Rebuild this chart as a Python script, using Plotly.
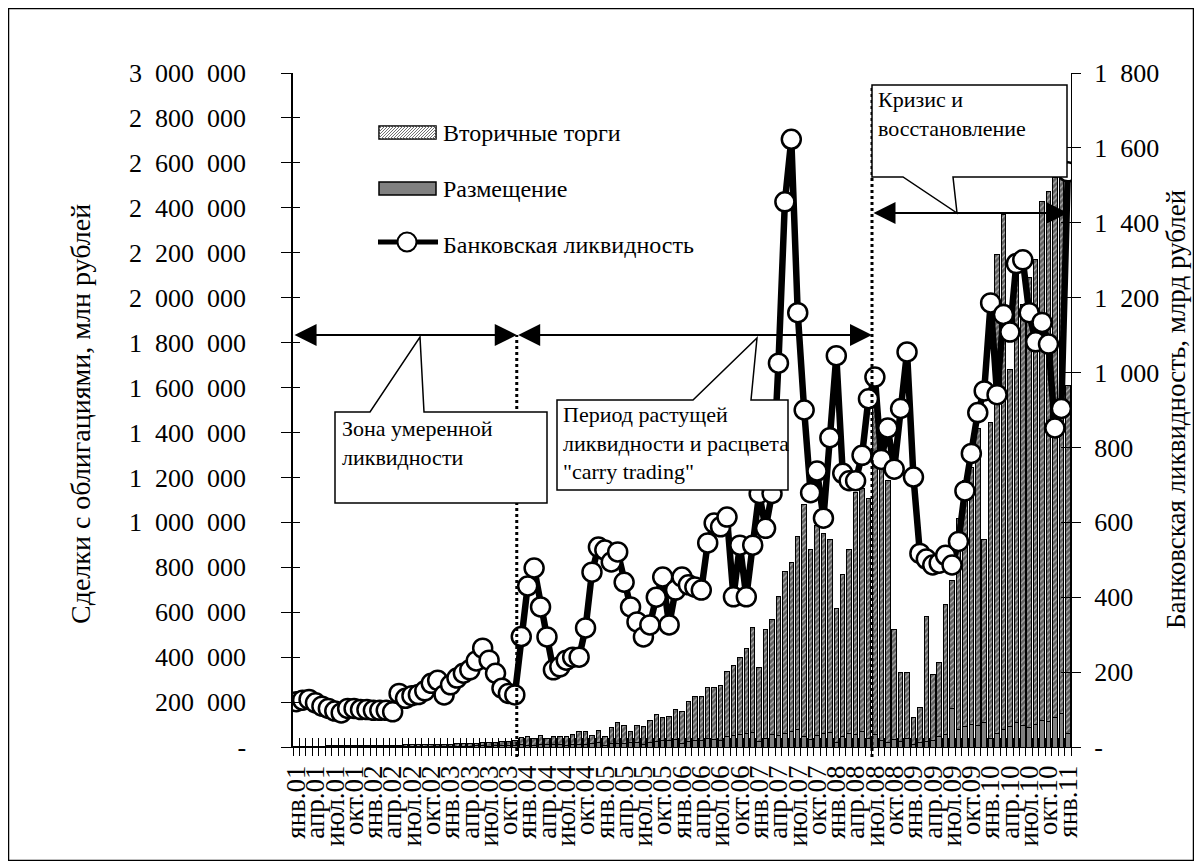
import plotly.graph_objects as go

# ---- data (monthly, янв.2001 - янв.2011) ----
month_abbr = ["янв", "фев", "мар", "апр", "май", "июн", "июл", "авг", "сен", "окт", "ноя", "дек"]
periods = [f"{m}.{y:02d}" for y in range(1, 11) for m in month_abbr] + ["янв.11"]
x = list(range(len(periods)))

# Размещение, млн рублей
placement = [1000, 1000, 1000, 1000, 1000, 2000, 1000, 2000, 1000, 2000, 2000, 3000,
             1000, 2000, 2000, 2000, 2000, 3000, 2000, 3000, 2000, 3000, 3000, 4000,
             2000, 3000, 4000, 4000, 5000, 5000, 4000, 6000, 5000, 6000, 8000, 10000,
             5000, 8000, 10000, 9000, 12000, 10000, 8000, 12000, 10000, 13000, 15000, 18000,
             8000, 14000, 16000, 15000, 20000, 18000, 12000, 22000, 25000, 28000, 30000, 35000,
             15000, 25000, 30000, 28000, 40000, 35000, 30000, 45000, 50000, 55000, 60000, 65000,
             25000, 40000, 55000, 50000, 60000, 70000, 80000, 45000, 35000, 50000, 60000, 65000,
             20000, 45000, 60000, 55000, 70000, 40000, 55000, 30000, 20000, 35000, 25000, 40000,
             10000, 20000, 25000, 30000, 45000, 55000, 170000, 80000, 90000, 100000, 95000, 110000,
             40000, 60000, 80000, 90000, 110000, 95000, 85000, 100000, 120000, 115000, 130000, 150000,
             60000]

# Вторичные торги, млн рублей
secondary = [2000, 2000, 3000, 3000, 3000, 3000, 4000, 3000, 5000, 4000, 5000, 4000,
             5000, 5000, 5000, 6000, 6000, 6000, 7000, 7000, 8000, 8000, 9000, 8000,
             11000, 11000, 11000, 12000, 12000, 13000, 16000, 16000, 19000, 20000, 22000, 32000,
             43000, 32000, 43000, 30000, 33000, 38000, 40000, 45000, 57000, 54000, 38000, 56000,
             40000, 71000, 91000, 81000, 47000, 78000, 80000, 94000, 120000, 103000, 104000, 131000,
             141000, 178000, 195000, 197000, 227000, 229000, 244000, 293000, 312000, 345000, 377000, 469000,
             328000, 482000, 512000, 620000, 723000, 753000, 858000, 1035000, 845000, 934000, 889000, 858000,
             598000, 721000, 820000, 1077000, 1080000, 1066000, 1495000, 1416000, 1164000, 487000, 306000, 291000,
             121000, 154000, 558000, 292000, 329000, 581000, 570000, 939000, 1094000, 1145000, 1324000, 813000,
             1406000, 2134000, 2289000, 1591000, 2032000, 1873000, 2005000, 2068000, 2310000, 2358000, 2404000, 2428000,
             1551000]

# Банковская ликвидность, млрд рублей
liquidity = [121, 125, 127, 118, 109, 103, 96, 91, 103, 103, 100, 100,
             98, 98, 98, 94, 143, 130, 137, 140, 150, 170, 178, 139,
             166, 184, 197, 206, 230, 264, 232, 197, 157, 143, 139, 295,
             430, 478, 374, 294, 206, 214, 232, 240, 240, 318, 467, 534,
             526, 494, 521, 440, 374, 334, 294, 326, 400, 454, 326, 419,
             454, 433, 427, 419, 545, 598, 588, 614, 401, 539, 401, 539,
             677, 584, 677, 1025, 1456, 1623, 1160, 900, 679, 737, 611, 826,
             1045, 731, 711, 711, 779, 930, 988, 768, 852, 742, 904, 1055,
             721, 517, 502, 486, 491, 512, 486, 549, 684, 784, 893, 951,
             1186, 941, 1155, 1108, 1291, 1301, 1160, 1082, 1134, 1076, 852, 904,
             1536]

label_idx = list(range(0, len(periods), 3))
label_text = [periods[i] for i in label_idx]
bounds = [i - 0.5 for i in range(len(periods) + 1)]

SEP = "\u2002"  # wide thousands separator, as in the original number format
left_vals = list(range(0, 3000001, 200000))
left_text = ["-"] + [f"{v:,}".replace(",", SEP) for v in left_vals[1:]]
right_vals = list(range(0, 1801, 200))
right_text = ["-"] + [f"{v:,}".replace(",", SEP) for v in right_vals[1:]]

# period boundaries for the annotations (in category units)
split_1 = 34.3
split_2 = 89.55

# ---- geometry, in screenshot pixels (page has an 8px body margin) ----
OFF = 8
L, R, T, B = 293, 1071, 73, 747
W, H = 1186, 853
FONT = "Liberation Serif"


def px(xp):
    return (xp - L) / (R - L)


def py(yp):
    return (B - yp) / (B - T)


def path(points):
    return "M " + " L ".join(f"{px(a):.5f},{py(b):.5f}" for a, b in points) + " Z"


fig = go.Figure()

fig.add_trace(go.Bar(
    x=x, y=placement, name="Размещение",
    marker=dict(color="#808080", line=dict(color="black", width=1)),
))
fig.add_trace(go.Bar(
    x=x, y=secondary, name="Вторичные торги",
    marker=dict(color="#606060",
                pattern=dict(shape="/", fgcolor="white", bgcolor="#606060", size=4, solidity=0.3),
                line=dict(color="black", width=1)),
))
fig.add_trace(go.Scatter(
    x=x, y=liquidity, name="Банковская ликвидность", yaxis="y2",
    mode="lines+markers",
    line=dict(color="black", width=6.5),
    marker=dict(size=19, color="white", line=dict(color="black", width=2.5)),
))

# empty helper traces so the extra tick axes get drawn
for xa, ya in [("x2", "y"), ("x3", "y"), ("x", "y3"), ("x", "y4")]:
    fig.add_trace(go.Scatter(x=[None], y=[None], xaxis=xa, yaxis=ya, mode="markers",
                             showlegend=False, hoverinfo="skip"))

shapes = []
annotations = []

# outer frame
shapes.append(dict(type="rect", xref="paper", yref="paper",
                   x0=px(OFF), x1=px(OFF + W), y0=py(OFF + H), y1=py(OFF),
                   line=dict(color="black", width=2.5)))

# vertical dotted separators
for xs, ytop in [(split_1, 335), (split_2, 85)]:
    shapes.append(dict(type="line", xref="x", yref="paper", x0=xs, x1=xs,
                       y0=py(757), y1=py(ytop),
                       line=dict(color="black", width=3, dash="dot")))

# callout boxes
box_style = dict(type="path", xref="paper", yref="paper", fillcolor="white",
                 line=dict(color="black", width=1.5))
shapes.append(dict(box_style, path=path([(335, 412), (370, 412), (420, 337), (424, 412),
                                         (547, 412), (547, 503), (335, 503)])))
shapes.append(dict(box_style, path=path([(557, 400), (693, 400), (757, 338), (751, 400),
                                         (788, 400), (788, 490), (557, 490)])))
shapes.append(dict(box_style, path=path([(872, 85), (1067, 85), (1067, 177), (953, 177),
                                         (957, 213), (903, 177), (872, 177)])))

box_texts = [
    (340, 443, "Зона умеренной<br>ликвидности"),
    (561, 443, "Период растущей<br>ликвидности и расцвета<br>\"carry trading\""),
    (876, 114, "Кризис и<br>восстановление"),
]
for bx, by, txt in box_texts:
    annotations.append(dict(xref="paper", yref="paper", x=px(bx), y=py(by), text=txt,
                            showarrow=False, xanchor="left", yanchor="middle", align="left",
                            font=dict(family=FONT, size=22, color="black")))

# period arrows (double headed)
arrow_style = dict(text="", showarrow=True, arrowhead=2, startarrowhead=2,
                   arrowside="end+start", arrowsize=2.2, startarrowsize=2.2,
                   arrowwidth=2, arrowcolor="black", axref="pixel", ayref="pixel",
                   standoff=0, startstandoff=0)
annotations.append(dict(arrow_style, xref="x", yref="paper", x=split_1, y=py(335),
                        ax=-(516.7 - L), ay=0))
annotations.append(dict(arrow_style, xref="x", yref="paper", x=split_2, y=py(335),
                        ax=-(872 - 516.7), ay=0))
annotations.append(dict(arrow_style, xref="paper", yref="paper", x=px(1068), y=py(213),
                        ax=-(1068 - 872), ay=0))

# legend drawn by hand
sw_x0, sw_x1 = 379, 436
h0, h1 = 126, 139
shapes.append(dict(type="rect", xref="paper", yref="paper", x0=px(sw_x0), x1=px(sw_x1),
                   y0=py(h1), y1=py(h0), fillcolor="white", line=dict(color="black", width=1.5)))
hatch = []
hh = h1 - h0
c = sw_x0 - hh
while c < sw_x1:
    xa, ya = c, h1
    xb, yb = c + hh, h0
    if xa < sw_x0:
        ya = h1 - (sw_x0 - xa)
        xa = sw_x0
    if xb > sw_x1:
        yb = h1 - (sw_x1 - c)
        xb = sw_x1
    hatch.append(f"M {px(xa):.5f},{py(ya):.5f} L {px(xb):.5f},{py(yb):.5f}")
    c += 3
shapes.append(dict(type="path", xref="paper", yref="paper", path=" ".join(hatch),
                   line=dict(color="#707070", width=1)))
shapes.append(dict(type="rect", xref="paper", yref="paper", x0=px(sw_x0), x1=px(sw_x1),
                   y0=py(195), y1=py(182), fillcolor="#808080", line=dict(color="black", width=1.5)))
shapes.append(dict(type="line", xref="paper", yref="paper", x0=px(378), x1=px(438),
                   y0=py(242), y1=py(242), line=dict(color="black", width=5)))
shapes.append(dict(type="circle", xref="paper", yref="paper", x0=px(397.5), x1=px(416.5),
                   y0=py(251.5), y1=py(232.5), fillcolor="white", line=dict(color="black", width=2)))

for ly, txt in [(133, "Вторичные торги"), (189, "Размещение"), (245, "Банковская ликвидность")]:
    annotations.append(dict(xref="paper", yref="paper", x=px(441), y=py(ly), text=txt,
                            showarrow=False, xanchor="left", yanchor="middle",
                            font=dict(family=FONT, size=24, color="black")))

# axis titles
annotations.append(dict(xref="paper", yref="paper", x=px(80), y=py(414), textangle=-90,
                        xanchor="center", yanchor="middle",
                        text="Сделки с облигациями, млн рублей", showarrow=False,
                        font=dict(family=FONT, size=28, color="black")))
annotations.append(dict(xref="paper", yref="paper", x=px(1176), y=py(410), textangle=-90,
                        xanchor="center", yanchor="middle",
                        text="Банковская ликвидность, млрд рублей", showarrow=False,
                        font=dict(family=FONT, size=27, color="black")))

axis_common = dict(showgrid=False, zeroline=False, tickcolor="black", tickwidth=1)
xr = [-0.5, len(periods) - 0.5]
tick_font = dict(family=FONT, size=26, color="black")

fig.update_layout(
    width=W, height=H,
    margin=dict(l=L - OFF, r=OFF + W - R, t=T - OFF, b=OFF + H - B, pad=0),
    paper_bgcolor="white", plot_bgcolor="white",
    font=dict(family=FONT, size=22, color="black"),
    barmode="stack", bargap=0.3, showlegend=False,
    xaxis=dict(axis_common, range=xr, tickmode="array", tickvals=bounds, ticks="outside",
               ticklen=8, showticklabels=False, showline=True, linecolor="black", linewidth=1),
    xaxis2=dict(axis_common, overlaying="x", anchor="y", side="bottom", range=xr,
                tickmode="array", tickvals=label_idx, ticktext=label_text, ticks="",
                tickangle=-90, showline=False, ticklabelstandoff=12,
                tickfont=dict(family=FONT, size=27, color="black")),
    xaxis3=dict(axis_common, overlaying="x", anchor="y", side="bottom", range=xr,
                tickmode="array", tickvals=bounds, ticks="inside", ticklen=9,
                showticklabels=False, showline=False),
    yaxis=dict(axis_common, range=[0, 3000000], tickmode="array", tickvals=left_vals,
               ticktext=left_text, ticks="outside", ticklen=10, showline=True,
               linecolor="black", linewidth=1.5, ticklabelstandoff=30, tickfont=tick_font),
    yaxis2=dict(axis_common, overlaying="y", side="right", anchor="x", range=[0, 1800],
                tickmode="array", tickvals=right_vals, ticktext=right_text, ticks="outside",
                ticklen=9, showline=True, linecolor="black", linewidth=1, ticklabelstandoff=8,
                tickfont=tick_font),
    yaxis3=dict(axis_common, overlaying="y", side="left", anchor="x", range=[0, 3000000],
                tickmode="array", tickvals=left_vals, ticks="inside", ticklen=7,
                showticklabels=False, showline=False),
    yaxis4=dict(axis_common, overlaying="y", side="right", anchor="x", range=[0, 1800],
                tickmode="array", tickvals=right_vals, ticks="inside", ticklen=10,
                showticklabels=False, showline=False),
    shapes=shapes,
    annotations=annotations,
)

fig.write_html("out.html")
